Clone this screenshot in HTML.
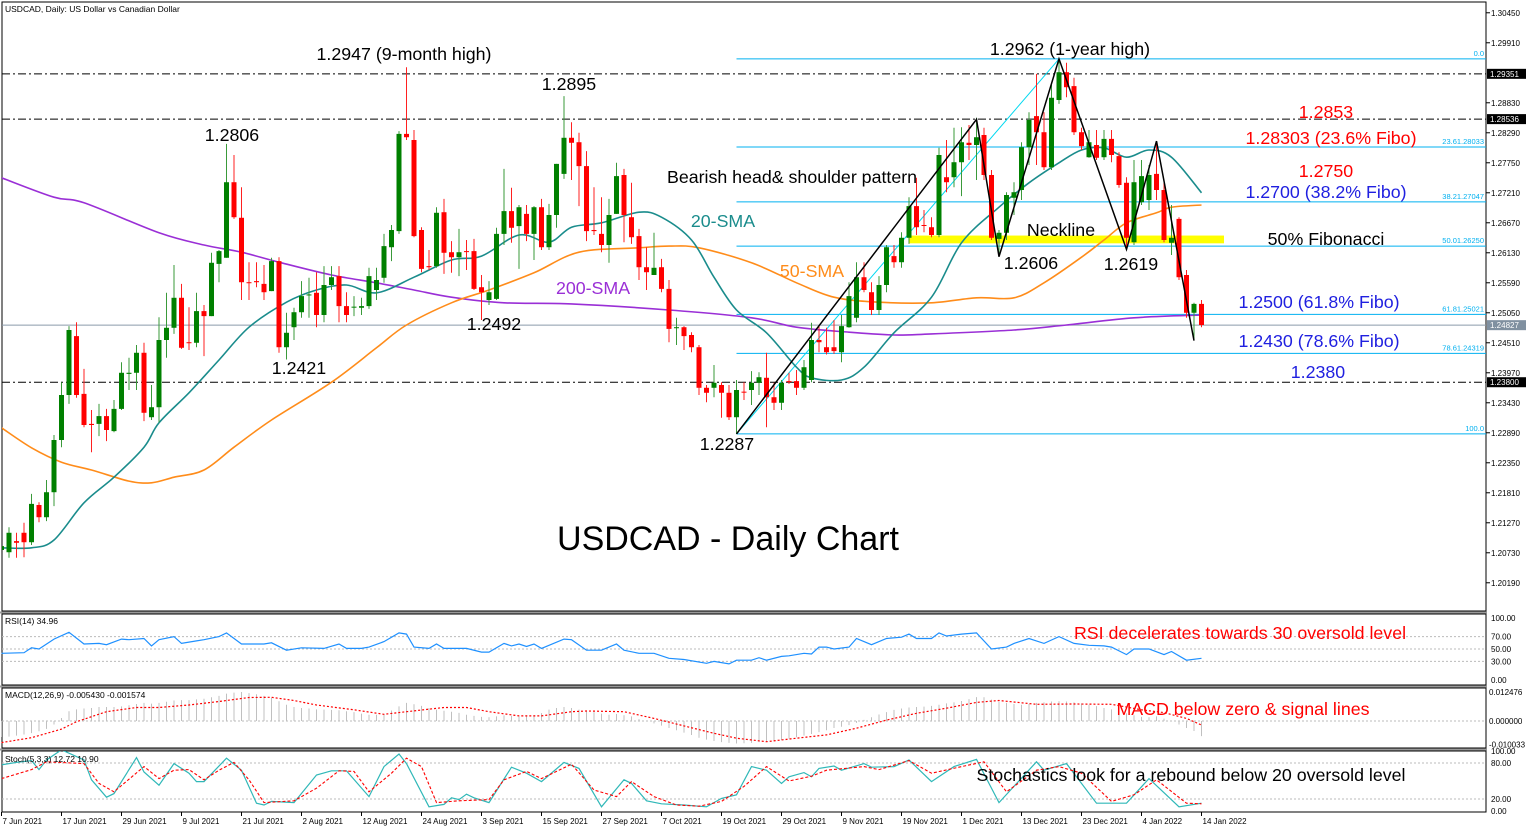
<!DOCTYPE html>
<html><head><meta charset="utf-8"><title>USDCAD Daily Chart</title>
<style>
html,body{margin:0;padding:0;background:#fff;}
svg{display:block;font-family:"Liberation Sans",Arial,sans-serif;}
</style></head>
<body>
<svg id="chart" xmlns="http://www.w3.org/2000/svg" width="1536" height="831" viewBox="0 0 1536 831">
<defs>
<clipPath id="mainClip"><rect x="2" y="2" width="1484" height="609"/></clipPath>
<clipPath id="stochClip"><rect x="2" y="751" width="1484" height="61"/></clipPath>
</defs>
<rect x="0" y="0" width="1536" height="831" fill="#fff"/>
<rect x="2" y="2" width="1484" height="609" fill="none" stroke="#000" stroke-width="1"/>
<rect x="2" y="614" width="1484" height="71" fill="none" stroke="#000" stroke-width="1"/>
<rect x="2" y="688" width="1484" height="60" fill="none" stroke="#000" stroke-width="1"/>
<rect x="2" y="751" width="1484" height="61" fill="none" stroke="#000" stroke-width="1"/>
<line x1="0" y1="612.5" x2="1487" y2="612.5" stroke="#999" stroke-width="2"/>
<line x1="0" y1="686.5" x2="1487" y2="686.5" stroke="#999" stroke-width="2"/>
<line x1="0" y1="749.5" x2="1487" y2="749.5" stroke="#999" stroke-width="2"/>
<g id="layer"></g>
<text x="5" y="12" font-size="8.5" fill="#000">USDCAD, Daily:  US Dollar vs Canadian Dollar</text>
<g font-size="17.8" fill="#000">
<text x="404" y="60" text-anchor="middle">1.2947 (9-month high)</text>
<text x="232" y="141" text-anchor="middle">1.2806</text>
<text x="569" y="90" text-anchor="middle">1.2895</text>
<text x="299" y="374" text-anchor="middle">1.2421</text>
<text x="494" y="330" text-anchor="middle">1.2492</text>
<text x="727" y="450" text-anchor="middle">1.2287</text>
<text x="1070" y="55" text-anchor="middle">1.2962 (1-year high)</text>
<text x="792" y="183" text-anchor="middle">Bearish head&amp; shoulder pattern</text>
<text x="723" y="227" text-anchor="middle" fill="#1a8c8c">20-SMA</text>
<text x="812" y="277" text-anchor="middle" fill="#ff8c1a">50-SMA</text>
<text x="593" y="294" text-anchor="middle" fill="#9a2fd6">200-SMA</text>
<text x="1061" y="236" text-anchor="middle">Neckline</text>
<text x="1031" y="269" text-anchor="middle">1.2606</text>
<text x="1131" y="270" text-anchor="middle">1.2619</text>
<text x="1326" y="118" text-anchor="middle" fill="#ff0000">1.2853</text>
<text x="1331" y="144" text-anchor="middle" fill="#ff0000">1.28303 (23.6% Fibo)</text>
<text x="1326" y="177" text-anchor="middle" fill="#ff0000">1.2750</text>
<text x="1326" y="198" text-anchor="middle" fill="#2020e0">1.2700 (38.2% Fibo)</text>
<text x="1326" y="245" text-anchor="middle">50% Fibonacci</text>
<text x="1319" y="308" text-anchor="middle" fill="#2020e0">1.2500 (61.8% Fibo)</text>
<text x="1319" y="347" text-anchor="middle" fill="#2020e0">1.2430 (78.6% Fibo)</text>
<text x="1318" y="378" text-anchor="middle" fill="#2020e0">1.2380</text>
<text x="1240" y="639" text-anchor="middle" fill="#ff0000">RSI decelerates towards 30 oversold level</text>
<text x="1243" y="715" text-anchor="middle" fill="#ff0000">MACD below zero &amp; signal lines</text>
<text x="1191" y="781" text-anchor="middle">Stochastics look for a rebound below 20 oversold level</text>
</g>
<text x="728" y="550" text-anchor="middle" font-size="34" fill="#000">USDCAD - Daily Chart</text>
<g font-size="8.5" fill="#000">
<text x="5" y="624">RSI(14) 34.96</text>
<text x="5" y="698">MACD(12,26,9) -0.005430 -0.001574</text>
<text x="5" y="762">Stoch(5,3,3) 12.72 10.90</text>
</g>
</svg>
<script>
// ---- data (prices in pips: 12085 = 1.2085) ----
const opens = [12078,12074,12094,12109,12092,12159,12137,12182,12276,12357,12463,12359,12305,12305,12319,12292,12332,12395,12397,12433,12317,12335,12456,12478,12532,12452,12451,12508,12499,12593,12604,12740,12676,12560,12562,12557,12544,12598,12443,12479,12506,12537,12541,12501,12555,12571,12517,12515,12514,12517,12546,12568,12623,12652,12827,12816,12654,12589,12589,12686,12614,12605,12616,12616,12551,12528,12530,12647,12688,12661,12683,12647,12695,12623,12681,12755,12820,12812,12769,12654,12647,12627,12683,12753,12677,12643,12587,12573,12587,12548,12478,12479,12465,12443,12370,12370,12375,12361,12317,12363,12366,12379,12388,12353,12343,12382,12382,12370,12384,12456,12443,12443,12434,12479,12496,12569,12542,12510,12555,12607,12596,12640,12697,12663,12659,12645,12749,12749,12776,12811,12807,12825,12753,12638,12649,12712,12726,12803,12859,12830,12767,12888,12938,12913,12830,12785,12807,12785,12818,12787,12739,12632,12704,12708,12755,12726,12631,12674,12573,12505,12521];
const highs = [12096,12119,12109,12127,12179,12164,12204,12285,12380,12481,12488,12404,12330,12341,12332,12348,12416,12424,12447,12451,12375,12497,12541,12591,12557,12515,12541,12519,12613,12618,12809,12789,12731,12596,12596,12591,12604,12605,12505,12514,12562,12568,12578,12589,12589,12589,12542,12535,12532,12586,12586,12647,12663,12832,12947,12834,12659,12618,12695,12710,12634,12656,12636,12638,12573,12562,12658,12764,12730,12699,12699,12697,12710,12701,12773,12895,12848,12829,12796,12731,12713,12710,12775,12764,12739,12656,12623,12649,12602,12564,12496,12481,12470,12447,12375,12411,12380,12375,12384,12380,12400,12398,12433,12379,12384,12397,12402,12420,12487,12483,12478,12492,12501,12560,12596,12596,12560,12571,12627,12627,12650,12713,12748,12690,12677,12802,12816,12838,12839,12843,12856,12838,12762,12654,12722,12740,12812,12866,12935,12866,12915,12962,12955,12928,12838,12834,12834,12834,12834,12794,12749,12780,12780,12771,12814,12739,12699,12677,12582,12523,12528];
const lows = [12064,12064,12064,12065,12087,12128,12130,12157,12263,12341,12352,12299,12254,12283,12274,12290,12330,12366,12366,12310,12312,12308,12424,12467,12440,12438,12443,12427,12499,12560,12604,12674,12528,12528,12551,12528,12544,12433,12421,12456,12496,12496,12479,12488,12546,12488,12488,12499,12501,12512,12528,12559,12598,12647,12816,12641,12578,12582,12586,12575,12577,12571,12582,12546,12492,12519,12528,12627,12631,12584,12634,12600,12618,12618,12658,12746,12744,12697,12634,12645,12614,12595,12683,12632,12629,12564,12546,12573,12542,12452,12447,12438,12434,12357,12344,12353,12316,12312,12287,12348,12339,12357,12299,12330,12330,12377,12357,12366,12380,12434,12430,12431,12416,12478,12488,12542,12501,12501,12542,12586,12586,12629,12645,12650,12641,12641,12722,12731,12715,12780,12744,12744,12636,12606,12636,12681,12708,12771,12771,12762,12762,12881,12893,12825,12798,12784,12780,12780,12776,12730,12619,12627,12699,12690,12708,12632,12609,12564,12496,12456,12479];
const closes = [12085,12109,12091,12092,12161,12137,12182,12276,12357,12474,12357,12303,12303,12319,12294,12332,12397,12397,12433,12325,12335,12456,12478,12532,12442,12451,12508,12499,12595,12616,12740,12677,12560,12559,12560,12542,12598,12443,12469,12506,12535,12538,12501,12555,12569,12517,12501,12516,12517,12571,12564,12625,12654,12827,12821,12643,12584,12587,12685,12613,12605,12614,12615,12548,12542,12542,12647,12688,12658,12695,12647,12695,12623,12681,12773,12820,12811,12769,12652,12652,12627,12681,12751,12681,12641,12587,12578,12586,12548,12476,12479,12463,12443,12370,12361,12379,12361,12317,12366,12362,12379,12389,12353,12343,12379,12381,12370,12407,12456,12452,12434,12436,12481,12535,12569,12546,12510,12555,12623,12596,12640,12697,12659,12662,12645,12789,12740,12776,12812,12807,12821,12753,12640,12649,12717,12722,12803,12852,12830,12767,12892,12938,12911,12830,12805,12812,12784,12818,12789,12735,12640,12740,12751,12753,12726,12636,12640,12569,12505,12521,12483];

const sma20Idx = [0,4,7,11,15,19,21,25,29,33,38,42,46,50,55,60,64,69,73,76,80,85,88,92,95,98,102,106,108,112,115,119,124,128,133,137,141,144,147,150,153,156,160];
const sma20Val = [12082,12082,12096,12163,12209,12263,12307,12361,12420,12479,12524,12546,12555,12541,12569,12600,12607,12645,12632,12659,12667,12686,12677,12636,12569,12510,12469,12407,12388,12384,12407,12469,12533,12631,12695,12739,12775,12798,12802,12785,12798,12785,12721];
const sma50Idx = [0,4,8,12,17,20,23,27,31,36,44,50,54,60,65,71,77,85,89,93,100,106,111,117,124,130,135,139,144,147,150,154,156,160];
const sma50Val = [12298,12262,12236,12222,12202,12199,12209,12222,12263,12312,12380,12442,12483,12523,12546,12577,12614,12622,12625,12622,12595,12559,12533,12524,12523,12532,12532,12559,12605,12636,12667,12685,12695,12699];
const sma200Idx = [0,7,11,21,27,32,37,44,50,55,60,67,76,89,100,106,113,119,124,135,142,151,160];
const sma200Val = [12748,12713,12703,12649,12627,12614,12596,12573,12559,12546,12533,12523,12521,12510,12496,12479,12470,12465,12467,12474,12483,12496,12501];

const rsiIdx = [0,3,4,5,7,9,11,13,14,16,17,19,20,21,23,24,26,27,29,30,32,35,36,38,40,43,45,46,48,49,51,53,54,55,57,58,59,62,64,65,67,68,69,70,71,72,75,76,78,80,82,83,85,87,89,91,94,95,97,98,100,101,102,104,105,107,108,109,110,111,113,114,116,118,120,121,122,124,125,126,128,130,132,134,135,137,139,141,143,145,147,148,150,151,153,155,156,158,160];
const rsiVal = [43,44,52,50,66,77,58,59,57,66,65,67,55,65,70,59,63,65,70,76,58,58,60,48,52,51,58,51,51,53,62,76,74,53,51,58,51,51,45,45,59,55,58,54,58,51,66,65,48,48,58,48,43,43,35,33,27,30,26,32,32,36,32,38,39,43,42,53,53,50,53,67,57,67,69,74,67,67,76,71,74,76,50,53,59,67,59,70,59,56,55,53,41,50,50,41,46,32,35];

// MACD histogram (x0.001) per bar
const macdHist = [-6.9,-6.7,-6.3,-5.8,-5.2,-4.4,-3.4,-1.5,1.3,4.2,5.0,5.4,5.6,6.0,6.0,6.0,6.3,6.8,7.3,7.8,7.5,7.8,8.3,8.8,9.0,9.0,9.3,9.6,10.2,10.8,11.8,12.2,12.5,12.0,11.5,10.8,10.0,8.5,7.0,6.0,5.6,5.4,5.0,4.9,4.8,4.6,4.2,3.8,3.2,2.7,2.7,3.0,4.5,6.3,7.8,7.2,6.5,5.6,4.9,4.4,4.0,3.5,2.7,2.2,1.8,1.6,2.0,2.4,2.2,1.9,2.0,2.5,3.4,4.9,5.6,6.0,5.6,4.9,4.3,3.8,3.2,2.7,3.0,2.5,2.0,0.8,0.0,-1.0,-2.0,-3.0,-4.0,-5.0,-6.0,-7.2,-8.0,-8.6,-9.1,-9.4,-9.7,-9.6,-9.4,-9.1,-8.8,-8.5,-8.2,-7.6,-7.0,-6.3,-5.6,-4.8,-4.0,-3.0,-2.5,-1.8,-0.8,0.5,1.6,2.8,3.8,4.8,5.4,5.8,6.0,6.2,6.5,7.0,7.6,8.0,8.6,9.4,10.3,10.2,9.2,8.3,7.8,7.3,7.0,7.3,7.8,8.0,8.4,8.5,8.4,8.0,7.6,7.0,6.4,5.6,5.0,4.2,3.3,2.5,1.8,1.6,2.0,1.0,0.0,-1.5,-3.0,-4.3,-6.5];
const sigIdx = [0,4,8,10,14,18,21,25,29,33,36,39,42,47,51,54,59,62,65,69,72,76,78,83,87,91,95,98,102,106,110,114,118,122,126,130,133,138,143,148,152,155,158,160];
const sigVal = [-9.3,-7.2,-3.5,-0.3,4.0,5.8,5.8,6.9,8.4,10.1,10.2,8.8,6.9,4.8,2.9,4.0,5.8,5.8,4.0,2.2,2.2,4.0,4.3,4.0,1.1,-2.1,-5.3,-7.4,-8.9,-7.4,-6.0,-3.1,0.4,3.3,5.5,8.0,8.8,7.2,7.3,7.2,4.8,3.6,1.1,-1.7];

const stochIdx = [0,2,4,5,6,8,11,12,14,15,18,19,21,23,25,26,27,30,32,34,35,36,39,42,44,46,49,51,53,54,57,59,60,61,62,63,65,68,70,72,75,77,80,83,84,86,88,91,94,96,98,100,102,104,105,107,108,109,111,112,115,116,119,121,124,127,130,133,138,139,142,146,150,153,157,160];
const stochVal = [77,81,84,69,85,102,85,52,23,29,89,65,43,79,63,49,49,88,68,13,10,16,14,60,67,67,24,74,95,79,7,11,22,19,28,22,14,73,63,49,81,71,7,52,46,17,12,10,7,21,27,74,68,46,57,64,57,71,75,68,79,73,74,85,49,74,86,14,82,68,79,13,13,54,7,13];
const stochSigIdx = [0,4,6,11,13,15,19,21,23,25,27,29,31,33,35,39,42,45,47,49,52,54,56,58,61,65,67,70,72,76,79,82,84,87,90,93,96,99,102,105,108,110,115,117,121,124,128,131,134,138,141,144,148,151,154,158,160];
const stochSigVal = [54,69,82,79,46,32,74,54,68,69,52,68,81,52,14,17,38,67,66,32,63,88,74,14,17,19,52,66,54,78,35,24,49,24,10,8,16,41,74,50,58,68,74,69,84,63,74,82,32,68,74,63,16,27,52,13,12];

const priceTicks = [1.30450,1.29910,1.28830,1.28290,1.27750,1.27210,1.26670,1.26130,1.25590,1.25050,1.24510,1.23970,1.23430,1.22890,1.22350,1.21810,1.21270,1.20730,1.20190];
const boxedLevels = [1.29351,1.28536,1.23800];
const currentPrice = 1.24827;
const fibRatios = ["0.0","23.6","38.2","50.0","61.8","78.6","100.0"];
const fibPrices = [1.2962,1.28033,1.27047,1.2625,1.25021,1.24319,1.2287];
const dateLabels = ["7 Jun 2021","17 Jun 2021","29 Jun 2021","9 Jul 2021","21 Jul 2021","2 Aug 2021","12 Aug 2021","24 Aug 2021","3 Sep 2021","15 Sep 2021","27 Sep 2021","7 Oct 2021","19 Oct 2021","29 Oct 2021","9 Nov 2021","19 Nov 2021","1 Dec 2021","13 Dec 2021","23 Dec 2021","4 Jan 2022","14 Jan 2022"];
const patternIdx = [98,130,133,141,150,154,159];
const patternPips = [12287,12853,12606,12962,12619,12814,12455];
const rsiTicks = [100,70,50,30,0];
const stochTicks = [100,80,20,0];

// ---- axes ----
const NS = "http://www.w3.org/2000/svg";
const layer = document.getElementById("layer");
const xOf = i => 1.5 + 7.5 * i;
const yP = pips => (13068 - pips) / 1.8;
const yPrice = p => (1.3068 - p) / 0.00018;
const yRsi = v => 680 - v * 0.62;
const yMacd = v => 721 - v * 2.324;
const yStoch = v => 811 - v * 0.6;
function mk(tag, attrs, parent) {
  const el = document.createElementNS(NS, tag);
  for (const k in attrs) el.setAttribute(k, attrs[k]);
  (parent || layer).appendChild(el);
  return el;
}
function smoothPath(pts) {
  let d = "M" + pts[0][0].toFixed(1) + "," + pts[0][1].toFixed(1);
  for (let k = 0; k < pts.length - 1; k++) {
    const p0 = pts[Math.max(0, k - 1)], p1 = pts[k], p2 = pts[k + 1], p3 = pts[Math.min(pts.length - 1, k + 2)];
    const c1x = p1[0] + (p2[0] - p0[0]) / 6, c1y = p1[1] + (p2[1] - p0[1]) / 6;
    const c2x = p2[0] - (p3[0] - p1[0]) / 6, c2y = p2[1] - (p3[1] - p1[1]) / 6;
    d += " C" + c1x.toFixed(1) + "," + c1y.toFixed(1) + " " + c2x.toFixed(1) + "," + c2y.toFixed(1) + " " + p2[0].toFixed(1) + "," + p2[1].toFixed(1);
  }
  return d;
}
const mainG = mk("g", {"clip-path": "url(#mainClip)"});



boxedLevels.forEach(p => {
  const l = mk("line", {x1: 2, x2: 1486, y1: yPrice(p), y2: yPrice(p), stroke: "#000", "stroke-dasharray": "8,3,2,3", "stroke-width": 1}, mainG);
  
  
});
const cpl = mk("line", {x1: 2, x2: 1486, y1: yPrice(currentPrice), y2: yPrice(currentPrice), stroke: "#8a9aaa", "stroke-width": 1}, mainG);



const band = mk("rect", {x: xOf(121), y: yP(12644), width: xOf(163) - xOf(121), height: yP(12630) - yP(12644), fill: "#ffff00"}, mainG);



fibPrices.forEach((p, k) => {
  const y = yPrice(p);
  const l = mk("line", {x1: xOf(98), x2: 1486, y1: y, y2: y, stroke: "#00b0f0", "stroke-width": 1}, mainG);
  
  
  const t = mk("text", {x: 1484, y: y - 3, "text-anchor": "end", "font-size": 7.5, fill: "#00b0f0"}, mainG);
  
  
  t.textContent = (k === 0 || k === fibRatios.length - 1) ? fibRatios[k] : fibRatios[k] + p.toFixed(5);
});
const fibTrend = mk("line", {x1: xOf(98), y1: yP(12287), x2: xOf(141), y2: yP(12962), stroke: "#00d8f0", "stroke-width": 1}, mainG);



function smaLine(idx, vals, color, name) {
  const pts = idx.map((i, k) => [xOf(i), yP(vals[k])]);
  const pl = mk("path", {d: smoothPath(pts), fill: "none", stroke: color, "stroke-width": 1.6, "stroke-linejoin": "round"}, mainG);
  
  
}
smaLine(sma200Idx, sma200Val, "#9a2fd6", "sma-200-line");
smaLine(sma50Idx, sma50Val, "#ff8c1a", "sma-50-line");
smaLine(sma20Idx, sma20Val, "#1a8c8c", "sma-20-line");

closes.forEach((c, i) => {
  const o = opens[i], up = c >= o;
  const x = xOf(i);
  const w = mk("line", {x1: x, x2: x, y1: yP(highs[i]), y2: yP(lows[i]), stroke: up ? "#3a9a3a" : "#ff2020", "stroke-width": 1}, mainG);
  
  
  const top = yP(Math.max(o, c)), bot = yP(Math.min(o, c));
  const b = mk("rect", {x: x - 2.5, y: top, width: 5, height: Math.max(1, bot - top), fill: up ? "#008000" : "#ff0000"}, mainG);
  
  
});

const hsPts = patternIdx.map((i, k) => xOf(i).toFixed(1) + "," + yP(patternPips[k]).toFixed(1)).join(" ");
const hs = mk("polyline", {points: hsPts, fill: "none", stroke: "#000", "stroke-width": 1.5}, mainG);



priceTicks.forEach(p => {
  const y = yPrice(p);
  const tk = mk("line", {x1: 1486, x2: 1490, y1: y, y2: y, stroke: "#000"});
  
  
  const t = mk("text", {x: 1491, y: y + 3, "font-size": 8, fill: "#000"});
  
  
  t.textContent = p.toFixed(5);
});
boxedLevels.concat([currentPrice]).forEach((p, k) => {
  const y = yPrice(p);
  const r = mk("rect", {x: 1487, y: y - 5, width: 39, height: 10, fill: k === 3 ? "#8090a0" : "#000"});
  
  
  const t = mk("text", {x: 1490, y: y + 3, "font-size": 8, fill: "#fff"});
  
  
  t.textContent = p.toFixed(5);
});

[70, 50, 30].forEach(v => {
  const l = mk("line", {x1: 2, x2: 1486, y1: yRsi(v), y2: yRsi(v), stroke: "#bbb", "stroke-dasharray": "2,2"});
  
  
});
const rsiLine = mk("polyline", {points: rsiIdx.map((i, k) => xOf(i).toFixed(1) + "," + yRsi(rsiVal[k]).toFixed(1)).join(" "), fill: "none", stroke: "#1e90ff", "stroke-width": 1.2});


rsiTicks.forEach(v => {
  const t = mk("text", {x: 1491, y: yRsi(v) + 3, "font-size": 8, fill: "#000"});
  
  
  t.textContent = v.toFixed(2);
});

const zl = mk("line", {x1: 2, x2: 1486, y1: yMacd(0), y2: yMacd(0), stroke: "#bbb", "stroke-dasharray": "2,2"});


macdHist.forEach((v, i) => {
  const h = mk("line", {x1: xOf(i), x2: xOf(i), y1: yMacd(0), y2: yMacd(v), stroke: "#c0c0c0", "stroke-width": 1});
  
  
});
const sig = mk("polyline", {points: sigIdx.map((i, k) => xOf(i).toFixed(1) + "," + yMacd(sigVal[k]).toFixed(1)).join(" "), fill: "none", stroke: "#ff0000", "stroke-width": 1.2, "stroke-dasharray": "2,2"});


[[0.012476, "0.012476"], [0, "0.000000"], [-0.010033, "-0.010033"]].forEach(a => {
  const t = mk("text", {x: 1489, y: yMacd(a[0] * 1000) + 3, "font-size": 8, fill: "#000"});
  
  
  t.textContent = a[1];
});

[80, 20].forEach(v => {
  const l = mk("line", {x1: 2, x2: 1486, y1: yStoch(v), y2: yStoch(v), stroke: "#bbb", "stroke-dasharray": "2,2"});
  
  
});
const stG = mk("g", {"clip-path": "url(#stochClip)"});


const stM = mk("polyline", {points: stochIdx.map((i, k) => xOf(i).toFixed(1) + "," + yStoch(stochVal[k]).toFixed(1)).join(" "), fill: "none", stroke: "#30b8b8", "stroke-width": 1.2}, stG);


const stS = mk("polyline", {points: stochSigIdx.map((i, k) => xOf(i).toFixed(1) + "," + yStoch(stochSigVal[k]).toFixed(1)).join(" "), fill: "none", stroke: "#ff0000", "stroke-width": 1.1, "stroke-dasharray": "3,2"}, stG);


stochTicks.forEach(v => {
  const t = mk("text", {x: 1491, y: yStoch(v) + 3, "font-size": 8, fill: "#000"});
  
  
  t.textContent = v.toFixed(2);
});

dateLabels.forEach((d, k) => {
  const x = xOf(k * 8);
  const tk = mk("line", {x1: x, x2: x, y1: 812, y2: 816, stroke: "#000"});
  
  
  const t = mk("text", {x: x + 1, y: 824, "font-size": 8, fill: "#000"});
  
  
  t.textContent = d;
});
</script>
</body></html>
